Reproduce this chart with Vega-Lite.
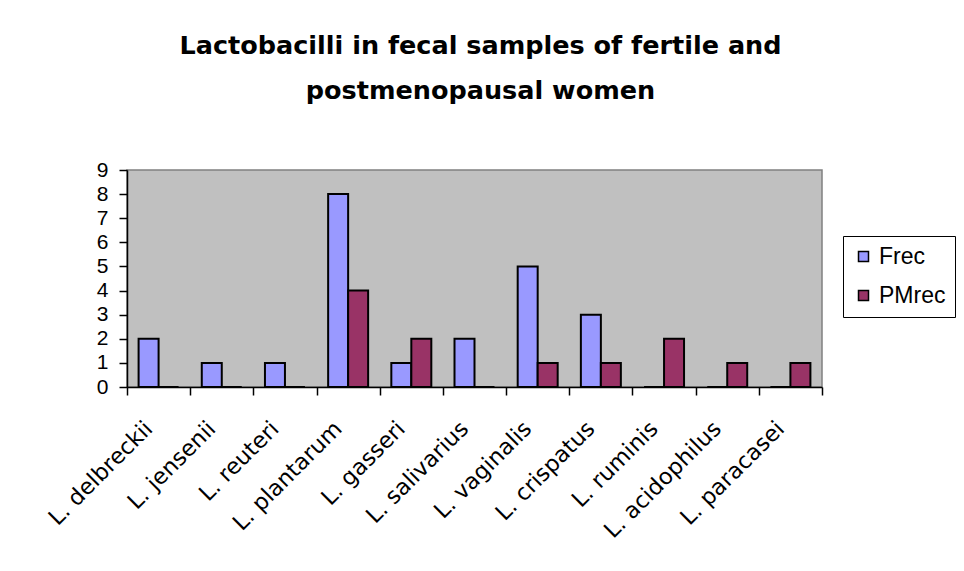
{
  "$schema": "https://vega.github.io/schema/vega-lite/v6.json",
  "width": 695,
  "height": 217,
  "autosize": {"type": "none"},
  "padding": {"left": 127, "top": 170, "right": 142, "bottom": 184},
  "background": "white",
  "title": {
    "text": ["Lactobacilli in fecal samples of fertile and", "postmenopausal women"],
    "font": "DejaVu Sans",
    "fontWeight": "bold",
    "fontSize": 25.5,
    "lineHeight": 45,
    "color": "black",
    "anchor": "middle",
    "dx": 6,
    "offset": 55
  },
  "data": {
    "values": [
      {"species": "L. delbreckii", "group": "Frec", "count": 2},
      {"species": "L. delbreckii", "group": "PMrec", "count": 0},
      {"species": "L. jensenii", "group": "Frec", "count": 1},
      {"species": "L. jensenii", "group": "PMrec", "count": 0},
      {"species": "L. reuteri", "group": "Frec", "count": 1},
      {"species": "L. reuteri", "group": "PMrec", "count": 0},
      {"species": "L. plantarum", "group": "Frec", "count": 8},
      {"species": "L. plantarum", "group": "PMrec", "count": 4},
      {"species": "L. gasseri", "group": "Frec", "count": 1},
      {"species": "L. gasseri", "group": "PMrec", "count": 2},
      {"species": "L. salivarius", "group": "Frec", "count": 2},
      {"species": "L. salivarius", "group": "PMrec", "count": 0},
      {"species": "L. vaginalis", "group": "Frec", "count": 5},
      {"species": "L. vaginalis", "group": "PMrec", "count": 1},
      {"species": "L. crispatus", "group": "Frec", "count": 3},
      {"species": "L. crispatus", "group": "PMrec", "count": 1},
      {"species": "L. ruminis", "group": "Frec", "count": 0},
      {"species": "L. ruminis", "group": "PMrec", "count": 2},
      {"species": "L. acidophilus", "group": "Frec", "count": 0},
      {"species": "L. acidophilus", "group": "PMrec", "count": 1},
      {"species": "L. paracasei", "group": "Frec", "count": 0},
      {"species": "L. paracasei", "group": "PMrec", "count": 1}
    ]
  },
  "mark": {"type": "bar", "stroke": "black", "strokeWidth": 2},
  "encoding": {
    "x": {
      "field": "species",
      "type": "nominal",
      "sort": null,
      "scale": {"paddingInner": 0, "paddingOuter": 0},
      "axis": {
        "title": null,
        "labelAngle": -45,
        "labelAlign": "right",
        "labelBaseline": "top",
        "labelOffset": -18,
        "labelPadding": 22,
        "labelFont": "DejaVu Sans",
        "labelFontSize": 22.5,
        "labelColor": "black",
        "tickBand": "extent",
        "tickSize": 8,
        "tickColor": "black",
        "tickWidth": 1.5,
        "domainColor": "black",
        "domainWidth": 1.5
      }
    },
    "xOffset": {
      "field": "group",
      "type": "nominal",
      "scale": {"paddingInner": 0, "paddingOuter": 0.58}
    },
    "y": {
      "field": "count",
      "type": "quantitative",
      "scale": {"domain": [0, 9], "nice": false},
      "axis": {
        "title": null,
        "values": [0, 1, 2, 3, 4, 5, 6, 7, 8, 9],
        "grid": false,
        "labelFont": "Liberation Sans",
        "labelFontSize": 21,
        "labelColor": "black",
        "labelPadding": 11,
        "tickSize": 8,
        "tickColor": "black",
        "tickWidth": 1.5,
        "domainColor": "black",
        "domainWidth": 1.5
      }
    },
    "color": {
      "field": "group",
      "type": "nominal",
      "scale": {"domain": ["Frec", "PMrec"], "range": ["#9999FF", "#993366"]},
      "legend": {
        "title": null,
        "orient": "none",
        "legendX": 716,
        "legendY": 66,
        "symbolType": "square",
        "symbolSize": 100,
        "symbolStrokeColor": "black",
        "symbolStrokeWidth": 1.5,
        "symbolOpacity": 1,
        "labelFont": "Liberation Sans",
        "labelFontSize": 23,
        "labelColor": "black",
        "labelOffset": 4,
        "rowPadding": 15,
        "padding": 9,
        "strokeColor": "black",
        "fillColor": "white"
      }
    }
  },
  "config": {
    "view": {"fill": "#C0C0C0", "stroke": "#808080", "strokeWidth": 1.5}
  }
}
